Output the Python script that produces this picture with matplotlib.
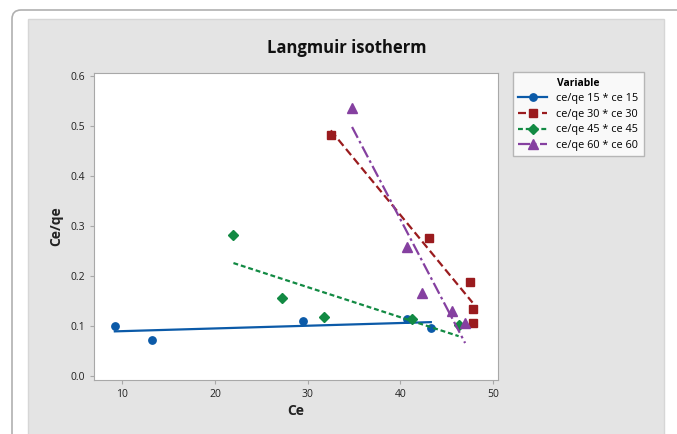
import matplotlib
matplotlib.use("Agg")
import matplotlib.pyplot as plt
import numpy as np
from matplotlib.patches import Rectangle, FancyBboxPatch

plt.rcParams['font.family'] = ['Open Sans', 'DejaVu Sans']

# Ce values and Ce/qe values for each contact time
ce15 = np.array([9.2, 13.2, 29.5, 40.7, 43.3])
cq15 = np.array([0.101, 0.073, 0.110, 0.114, 0.097])

ce30 = np.array([32.5, 43.1, 47.5, 47.8, 47.8])
cq30 = np.array([0.483, 0.277, 0.189, 0.135, 0.107])

ce45 = np.array([22.0, 27.2, 31.8, 41.3, 46.3])
cq45 = np.array([0.283, 0.157, 0.119, 0.115, 0.103])

ce60 = np.array([34.8, 40.7, 42.3, 45.6, 47.0])
cq60 = np.array([0.537, 0.259, 0.167, 0.131, 0.107])

labels = ["ce/qe 15 * ce 15", "ce/qe 30 * ce 30", "ce/qe 45 * ce 45", "ce/qe 60 * ce 60"]
colors = ["#0b5aa8", "#9a1b1e", "#128a43", "#8540a0"]
markers = ["o", "s", "D", "^"]
msizes = [5.3, 5.3, 5, 6.5]
dashes = [None, (3.6, 1.8), (2.2, 1.3), (5.5, 1.6, 1.2, 1.6)]

fig = plt.figure(figsize=(6.77, 4.34), dpi=100)
W, H = 677, 434
# outer rounded frame (pixel coords) and grey panel
fig.patches.append(FancyBboxPatch((12, -200), 900, H - 10 + 200,
                                  boxstyle="round,pad=0,rounding_size=9",
                                  transform=None, facecolor="white",
                                  edgecolor="#b0b0b0", lw=1.2, zorder=-2))
fig.patches.append(Rectangle((28 / W, -0.05), (664 - 28) / W, 1.05 - 19 / H,
                             transform=fig.transFigure, facecolor="#e4e4e4",
                             edgecolor="#d6d6d6", lw=1, zorder=-1))

ax = fig.add_axes([94 / W, 1 - 380 / H, (498 - 94) / W, (380 - 72.7) / H])
ax.set_facecolor("white")

data = [(ce15, cq15), (ce30, cq30), (ce45, cq45), (ce60, cq60)]
for (x, y), lab, c, m, ms, d in zip(data, labels, colors, markers, msizes, dashes):
    b, a = np.polyfit(x, y, 1)
    xf = np.array([x.min(), x.max()])
    line, = ax.plot(xf, a + b * xf, color=c, lw=1.6)
    if d is not None:
        line.set_dashes(d)
    ax.plot(x, y, linestyle="none", marker=m, color=c, ms=ms)
    # proxy artist for legend
    h, = ax.plot([], [], color=c, lw=1.6, marker=m, ms=ms)
    if d is not None:
        h.set_dashes(d)
    h.set_label(lab)

ax.set_xlim(6.95, 50.55)
ax.set_ylim(-0.008, 0.6066)
ax.set_xticks([10, 20, 30, 40, 50])
ax.set_yticks([0.0, 0.1, 0.2, 0.3, 0.4, 0.5, 0.6])
ax.set_yticklabels(["0.0", "0.1", "0.2", "0.3", "0.4", "0.5", "0.6"])
for s in ax.spines.values():
    s.set_color("#a8a8a8")
ax.tick_params(colors="#a8a8a8", labelcolor="#222222", labelsize=7.5, length=3)

ax.set_xlabel("Ce", fontsize=10, fontweight="bold", color="#222222", labelpad=3)
ax.set_ylabel("Ce/qe", fontsize=10, fontweight="bold", color="#222222", labelpad=5)
fig.text(347 / W, 1 - 48 / H, "Langmuir isotherm", ha="center", va="center",
         fontsize=12, fontweight="bold", color="#111111")

leg = ax.legend(loc="upper left", bbox_to_anchor=(512.7 / W, 1 - 72.3 / H),
                bbox_transform=fig.transFigure, borderaxespad=0, title="Variable",
                fontsize=7.8, title_fontsize=7.5, frameon=True, fancybox=False,
                handlelength=2.7, handletextpad=0.8, labelspacing=0.42,
                borderpad=0.5)
leg.get_title().set_fontweight("bold")
leg.get_frame().set_edgecolor("#a8a8a8")
leg.get_frame().set_linewidth(1)

fig.savefig("out.png", dpi=100)
